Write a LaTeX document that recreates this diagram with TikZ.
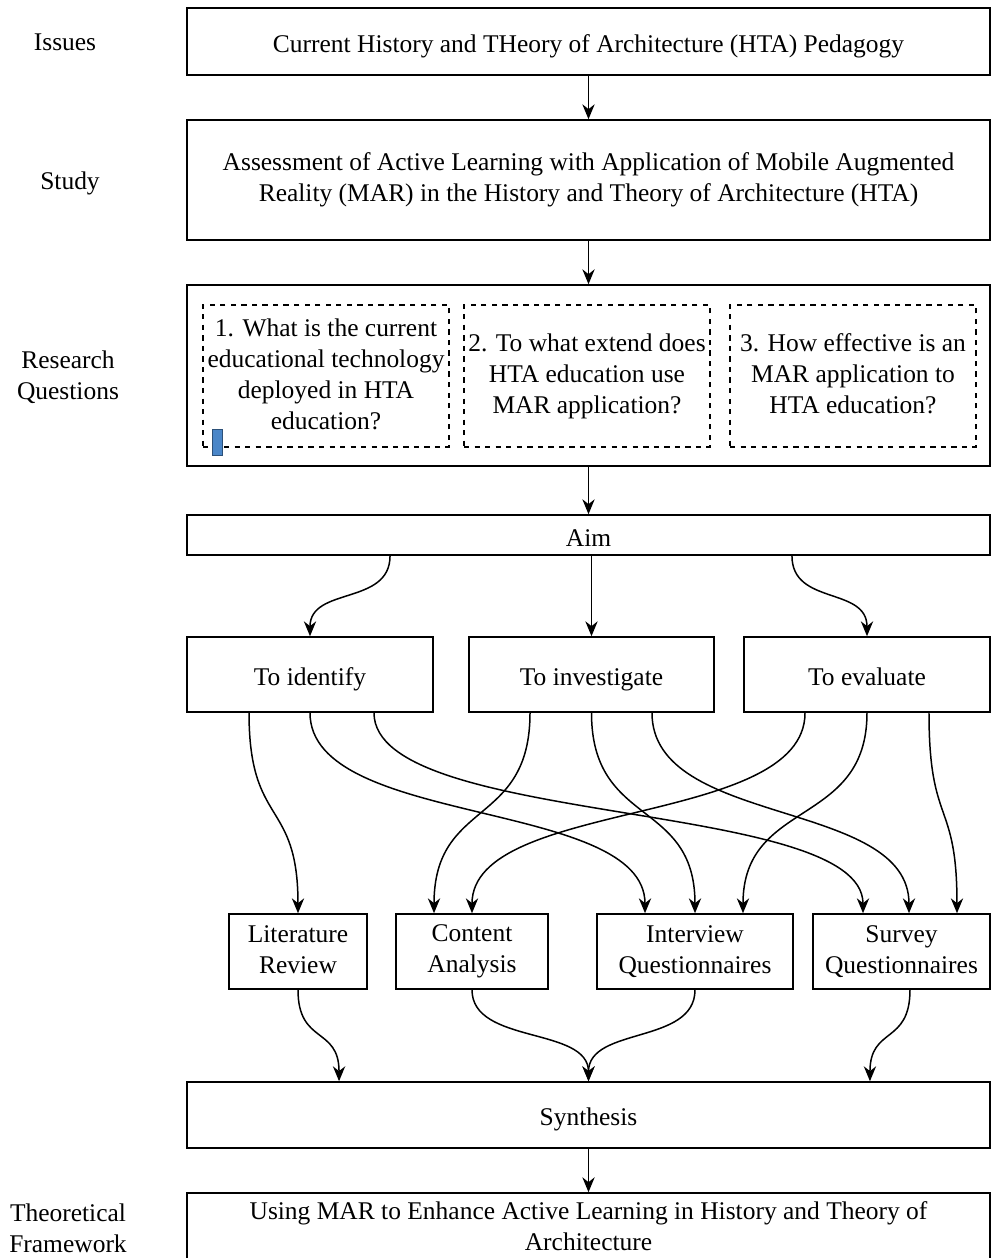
\documentclass[tikz,border=0pt]{standalone}
\usepackage{fontspec}
\setmainfont{Liberation Serif}
\usetikzlibrary{positioning, calc, arrows.meta}
\definecolor{markblue}{RGB}{74,134,200}
\newcommand{\boxstrut}{\rule[-2.5pt]{0pt}{17.6pt}}

\begin{document}
\begin{tikzpicture}[x=0.02cm, y=-0.02cm,
    font=\fontsize{14.5}{17.6}\selectfont,
    struts/.style={execute at begin node=\boxstrut, 
      execute at end node=\boxstrut},
    block/.style={draw, 
      struts, 
      line width=0.9pt, 
      minimum width=16.06cm, 
      align=center, 
      inner sep=0pt},
    question/.style={draw, 
      struts, 
      dashed, 
      line width=0.7pt, 
      minimum width=4.92cm, 
      minimum height=2.84cm, 
      align=center, 
      inner sep=0pt},
    goal/.style={draw, 
      struts, 
      line width=0.9pt, 
      minimum width=4.92cm, 
      minimum height=1.5cm, 
      align=center},
    method/.style={draw, 
      struts, 
      line width=0.9pt, 
      minimum height=1.5cm, 
      align=center, 
      inner sep=0pt},
    sidelabel/.style={align=center},
    flow/.style={-{Stealth[length=8.5pt, width=7pt]}, line width=0.85pt}]

  \useasboundingbox (0,0) rectangle (992,1258);

  \node [block, minimum height=1.34cm] (issues) at (588.5,41.5)
    {Current History and THeory of Architecture (HTA) Pedagogy};

  \node [block, minimum height=2.4cm] (study) at (588.5,180)
    {Assessment of Active Learning with Application of Mobile Augmented\\
     Reality (MAR) in the History and Theory of Architecture (HTA)};

  \node [block, minimum height=3.62cm] (rq) at (588.5,375.5) {};

  \node [question] (q1) at (326,376)
    {1. What is the current\\educational technology\\deployed in HTA\\education?};
  \node [question] (q2) at (587,376)
    {2. To what extend does\\HTA education use\\MAR application?};
  \node [question] (q3) at (853,376)
    {3. How effective is an\\MAR application to\\HTA education?};

  \node [draw=markblue!60!black, fill=markblue, minimum width=0.2cm, 
    minimum height=0.52cm, inner sep=0pt] (cursor) at (217.5,442) {};

  \node [block, minimum height=0.8cm] (aim) at (588.5,535) {Aim};

  \node [goal] (ident) at (310,674.5) {To identify};
  \node [goal, minimum width=4.9cm] (invest) at (591.5,674.5) {To investigate};
  \node [goal] (evalu) at (867,674.5) {To evaluate};

  \node [method, minimum width=2.76cm] (lit) at (298,951.5) {Literature\\Review};
  \node [method, minimum width=3.04cm] (content) at (472,951.5) {Content\\Analysis};
  \node [method, minimum width=3.92cm] (interview) at (695,951.5) {Interview\\Questionnaires};
  \node [method, minimum width=3.54cm] (survey) at (901.5,951.5) {Survey\\Questionnaires};

  \node [block, minimum height=1.32cm] (synth) at (588.5,1115) {Synthesis};

  \node [block, minimum height=1.42cm] (theo) at (588.5,1228.5)
    {Using MAR to Enhance Active Learning in History and Theory of\\Architecture};

% SIDE LABELS

  \node [sidelabel] (lissues) at (65,42) {Issues};
  \node [sidelabel] (lstudy) at (70,183) {Study};
  \node [sidelabel] (lrq) at (68,377) {Research\\Questions};
  \node [sidelabel] (ltheo) at (68,1228) {Theoretical\\Framework};

% MAIN FLOW

  \draw[flow] (issues) -- (study);
  \draw[flow] (study) -- (rq);
  \draw[flow] (rq) -- (aim);
  \draw[flow] (synth) -- (theo);

% AIM TO GOALS

  \draw[flow] ([xshift=-3.97cm]aim.south) 
    .. controls +(0,-1cm) and +(0,1cm) .. (ident.north);
  \draw[flow] (aim.south -| invest.north) -- (invest.north);
  \draw[flow] ([xshift=4.07cm]aim.south) 
    .. controls +(0,-1cm) and +(0,1cm) .. (evalu.north);

% GOALS TO METHODS

  \draw[flow] ([xshift=-1.22cm]ident.south) 
    .. controls +(0,-2.3cm) and +(0,2.3cm) .. (lit.north);
  \draw[flow] (ident.south) 
    .. controls +(0,-2.3cm) and +(0,2.3cm) .. ([xshift=-1cm]interview.north);
  \draw[flow] ([xshift=1.28cm]ident.south) 
    .. controls +(0,-2.3cm) and +(0,2.3cm) .. ([xshift=-0.77cm]survey.north);

  \draw[flow] ([xshift=-1.23cm]invest.south) 
    .. controls +(0,-2.3cm) and +(0,2.3cm) .. ([xshift=-0.76cm]content.north);
  \draw[flow] (invest.south) 
    .. controls +(0,-2.3cm) and +(0,2.3cm) .. (interview.north);
  \draw[flow] ([xshift=1.21cm]invest.south) 
    .. controls +(0,-2.3cm) and +(0,2.3cm) .. ([xshift=0.15cm]survey.north);

  \draw[flow] ([xshift=-1.24cm]evalu.south) 
    .. controls +(0,-2.3cm) and +(0,2.3cm) .. (content.north);
  \draw[flow] (evalu.south) 
    .. controls +(0,-2.3cm) and +(0,2.3cm) .. ([xshift=0.96cm]interview.north);
  \draw[flow] ([xshift=1.24cm]evalu.south) 
    .. controls +(0,-2.3cm) and +(0,2.3cm) .. ([xshift=1.11cm]survey.north);

% METHODS TO SYNTHESIS

  \draw[flow] (lit.south) 
    .. controls +(0,-1.1cm) and +(0,1.1cm) .. ([xshift=-4.99cm]synth.north);
  \draw[flow] (content.south) 
    .. controls +(0,-1.1cm) and +(0,1.1cm) .. (synth.north);
  \draw[flow] (interview.south) 
    .. controls +(0,-1.1cm) and +(0,1.1cm) .. (synth.north);
  \draw[flow] ([xshift=0.17cm]survey.south) 
    .. controls +(0,-1.1cm) and +(0,1.1cm) .. ([xshift=5.63cm]synth.north);

\end{tikzpicture}
\end{document}
